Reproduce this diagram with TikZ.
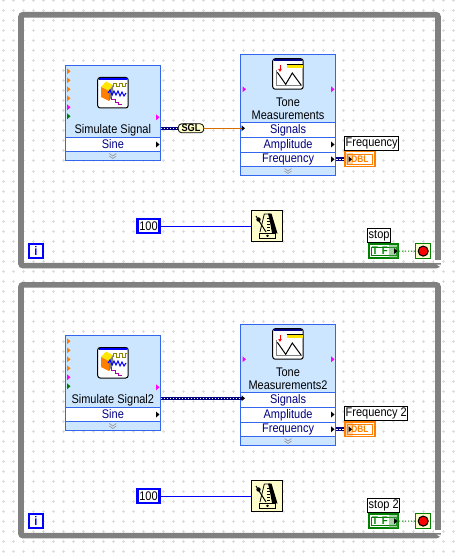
\documentclass[tikz,border=0pt]{standalone}
\usepackage{fontspec}
\setmainfont[FakeStretch=0.88]{Liberation Sans}
\usetikzlibrary{arrows.meta,positioning}
\definecolor{lvgray}{HTML}{808080}
\definecolor{lvdot}{HTML}{DCDCDC}
\definecolor{lvpale}{HTML}{CCE6FF}
\definecolor{lvedge}{HTML}{3366EE}
\definecolor{lvnavy}{HTML}{000080}
\definecolor{lvblue}{HTML}{0000FF}
\definecolor{lvorange}{HTML}{FF8000}
\definecolor{lvpink}{HTML}{FF00FF}
\definecolor{lvgreen}{HTML}{007F00}
\definecolor{lvcream}{HTML}{FFFFCC}
\tikzset{
  lvloop/.style={draw=lvgray,line width=5.6pt,rounded corners=2pt},
  lvpanel/.style={draw=lvedge,fill=lvpale,line width=1pt,anchor=north west,inner sep=0pt},
  lvrow/.style={draw=lvedge,fill=white,line width=1pt,anchor=north west,inner sep=0pt,
                minimum width=94.8pt,text=lvnavy,font=\fontsize{12.5}{12.5}\selectfont},
  lvtitle/.style={inner sep=0pt,font=\fontsize{12.5}{12.5}\selectfont},
  lvicon/.style={draw=black,fill=white,line width=1pt,rounded corners=2.5pt,anchor=north west,
                 minimum width=30.5pt,minimum height=30.5pt,inner sep=0pt},
  lvmetro/.style={draw=black,fill=lvcream,line width=1pt,anchor=north west,
                  minimum width=30.8pt,minimum height=30.8pt,inner sep=0pt},
  lvlabel/.style={draw=black,fill=white,line width=.8pt,anchor=south west,inner xsep=1pt,inner ysep=0pt,
                  minimum height=13.8pt,font=\fontsize{12.5}{12.5}\selectfont},
  lvconst/.style={draw=lvblue,fill=white,line width=2.4pt,inner sep=0pt,
                  font=\fontsize{12.5}{12.5}\selectfont},
  lvdbl/.style={draw=lvorange,fill=white,line width=1.2pt,anchor=north west,inner sep=0pt,
                minimum width=30pt,minimum height=14.5pt},
  lvbool/.style={draw=lvgreen,fill=white,line width=2pt,anchor=north west,inner sep=0pt,
                 minimum width=29.6pt,minimum height=13.6pt},
  lvstop/.style={draw=lvgreen,fill=lvcream,line width=.8pt,anchor=north west,inner sep=0pt,
                 minimum width=15pt,minimum height=15pt},
  lvconv/.style={draw=black,fill=lvcream,line width=.8pt,rounded corners=3.5pt,inner sep=0pt,
                 minimum width=25.5pt,minimum height=9pt,
                 font=\fontsize{10.5}{10.5}\selectfont\bfseries},
  lvwide/.style={draw=lvnavy,line width=3.4pt,postaction={draw=white,line width=.9pt,dash pattern=on 1.5pt off 1.5pt}},
  lvsingle/.style={draw=lvblue,line width=1pt},
  lvflag/.style={draw=lvgreen,line width=1pt,dotted},
  lvsgl/.style={draw=lvorange!85!black,line width=1pt},
  lvterm/.pic={\fill (0,-3) -- (3.5,0) -- (0,3) -- cycle;},
  lvchev/.pic={\draw[lvgray!80,line width=.7pt] (-3.5,-2.5) -- (0,0) -- (3.5,-2.5) (-3.5,-5) -- (0,-2.5) -- (3.5,-5);}
}
\begin{document}
\begin{tikzpicture}[x=1pt,y=-1pt]
  \useasboundingbox (0,0) rectangle (456,556);
  \fill[white] (0,0) rectangle (456,556);
  % block diagram dots
  \foreach \gx in {3,13,...,453}{
    \foreach \gy in {1,11,...,551}{
      \draw[lvdot,line width=1pt] (\gx.5-1.5,\gy) -- (\gx.5+1.5,\gy) (\gx.5,\gy-1.5) -- (\gx.5,\gy+1.5);
    }
  }

  \foreach \n/\off/\simname/\tonename/\freqname/\stopname in {
      1/0/Simulate Signal/Measurements/Frequency/stop,
      2/270/Simulate Signal2/Measurements2/Frequency 2/stop 2}{
  \begin{scope}[yshift=-\off pt]
    \draw[lvloop] (21,14.8) rectangle (438,265.6);
    % corner of the loop
    \fill[white] (434,260) rectangle (442,262.6);
    \fill[white] (436.5,264.5) -- (440.5,264.5) -- (440.5,267) -- cycle;

    % simulate signal
    \node[lvpanel,minimum width=94.8pt,minimum height=95pt] (sim\n) at (65,65) {};
    \node[lvrow,minimum height=14pt] (sine\n) at (65,136.8) {Sine};
    \pic at (112.8,158.5) {lvchev};
    \node[lvtitle] (simtext\n) at (112.8,130) {\simname};
    \foreach \ty/\tc in {71.3/lvorange,80.3/lvorange,89.3/lvorange,98.3/lvorange,107.3/lvpink,116.3/lvgreen}{
      \pic[\tc] at (67,\ty) {lvterm};
    }
    \pic[lvpink] at (156,117.3) {lvterm};
    \pic[black] at (156,144.5) {lvterm};
    \coordinate (simout\n) at (160.5,128.3);

    \node[lvicon] (simicon\n) at (97.2,77) {};
    \fill[lvblue] (99.3,78) rectangle (126.7,80);
    \fill[yellow!90!orange] (101,87) -- (106,81.5) -- (113,85) -- (109,91) -- cycle;
    \fill[orange] (101,87) -- (109,91) -- (109,101) -- (101,97) -- cycle;
    \fill[lvgray] (109,91) -- (113,85) -- (113,95) -- (109,101) -- cycle;
    \draw[olive,line width=1pt] (113,87) -- (113,83.5) -- (116,83.5) -- (116,87) -- (119,87) -- (119,83.5) -- (122,83.5) -- (122,87) -- (125,87) -- (125,83.5) -- (127,83.5);
    \draw[lvblue,line width=1pt] (108,93) -- (110,90) -- (112,95) -- (114,91) -- (116,95) -- (118,91) -- (120,96) -- (122,92) -- (124,96) -- (126,93);
    \draw[violet!70!magenta,line width=1pt] (111,97) -- (111,100) -- (115,100) -- (115,103) -- (118,103) -- (118,105) -- (122,105);

    % tone measurements
    \node[lvpanel,minimum width=94.8pt,minimum height=120.3pt] (tone\n) at (240.2,54.2) {};
    \node[lvtitle] (tonea\n) at (288,102.3) {Tone};
    \node[lvtitle] (toneb\n) at (288,115.2) {\tonename};
    \node[lvrow,minimum height=15pt] (signals\n) at (240.2,121.8) {Signals};
    \node[lvrow,minimum height=15pt] (ampl\n) at (240.2,136.8) {Amplitude};
    \node[lvrow,minimum height=14pt] (freq\n) at (240.2,151.8) {Frequency};
    \pic at (288,173.5) {lvchev};
    \pic[lvpink] at (242.5,89.3) {lvterm};
    \pic[lvpink] at (331,89.3) {lvterm};
    \pic[black] at (331,144.5) {lvterm};
    \pic[black] at (331,159.3) {lvterm};
    \coordinate (sigin\n) at (241.5,128.3);

    \node[lvicon] (toneicon\n) at (272.2,58.2) {};
    \fill[lvnavy] (274.3,59) rectangle (302,61);
    \draw[lvgray,line width=.8pt] (276,70) -- (276,85.5) -- (302,85.5);
    \fill[yellow!90!orange] (286.7,64) rectangle (302.7,68);
    \draw[black,line width=.6pt] (286.7,64) -- (302.7,64);
    \draw[red,line width=1pt,-{Latex[length=3pt,width=4pt]}] (280,65) -- (280,72);
    \draw[black,line width=1pt] (277.3,72.3) -- (285.7,84.3) -- (292.3,73) -- (301,85);

    % indicator
    \node[lvdbl] (dbl\n) at (344.3,151.3) {};
    \draw[lvorange,line width=.8pt] (347,154) rectangle (372.5,164);
    \node[inner sep=0pt,text=lvorange,font=\fontsize{9.5}{9.5}\selectfont\bfseries] (dbltext\n) at (360,159.2) {DBL};
    \fill[lvorange,opacity=.35] (346,153) rectangle (353,165.5);
    \pic[black] at (348.5,159.3) {lvterm};
    \node[lvlabel] (freqlabel\n) at (344.3,150.7) {\freqname};
    \draw[lvwide] (freq\n.east |- dbl\n.west) -- (dbl\n.west);

    % wait
    \node[lvconst,minimum width=22pt,minimum height=13.8pt] (wait\n) at (148.5,226) {100};
    \node[lvmetro] (metro\n) at (251.3,210.1) {};
    \draw[lvsingle] (wait\n.east) -- (metro\n.west);
    \fill[black] (268,213.5) -- (271.5,213.5) -- (277.5,233.5) -- (272,233) -- (270,222) -- cycle;
    \draw[black,line width=.8pt] (264.3,214) -- (270,214) (264.3,214) -- (260,232);
    \draw[black,line width=.8pt] (259.5,233) -- (275,233) -- (275,238.5) -- (259.5,238.5) -- cycle;
    \fill[black] (267.5,234.6) -- (269,235.8) -- (267.5,237) -- (266,235.8) -- cycle;
    \foreach \ty in {218,221,224,227,230}{
      \draw[black,line width=.6pt] (267,\ty) -- (269.5,\ty);
    }
    \draw[black,line width=1pt] (256,216) -- (266,232);
    \fill[black] (258.5,219.5) circle (2.2pt);

    % iteration terminal
    \node[lvconst,minimum width=13.5pt,minimum height=13.5pt,text=lvblue,font=\fontsize{12.5}{12.5}\selectfont\bfseries] (iter\n) at (36,251) {i};

    % stop
    \node[lvbool] (tf\n) at (367.5,243.3) {};
    \draw[lvgreen,line width=1pt] (371,247) rectangle (396,255);
    \node[inner sep=0pt,text=lvgreen,font=\fontsize{11}{11}\selectfont\bfseries,anchor=west] (tftext\n) at (372,251.2) {T\,\,F};
    \fill[lvgreen!70!white,opacity=.5] (389,244.5) rectangle (398,258);
    \pic[black] at (394,251.1) {lvterm};
    \node[lvlabel] (stoplabel\n) at (367.3,242.7) {\stopname};
    \node[lvstop] (cond\n) at (415.3,243.2) {};
    \fill[black] (cond\n.center) circle (5.6pt);
    \fill[red] (cond\n.center) circle (4.3pt);
    \draw[lvflag] (tf\n.east) -- (cond\n.west);
  \end{scope}
  }

  % first loop has a conversion, second has none
  \node[lvconv] (sgl) at (191,128.3) {SGL};
  \draw[lvwide] (simout1) -- (sgl.west);
  \draw[lvsgl] (sgl.east) -- (sigin1);
  \draw[lvwide] (simout2) -- (sigin2);
  \pic[black] at (241.5,128.3) {lvterm};
  \pic[black] at (241.5,398.3) {lvterm};
\end{tikzpicture}
\end{document}
